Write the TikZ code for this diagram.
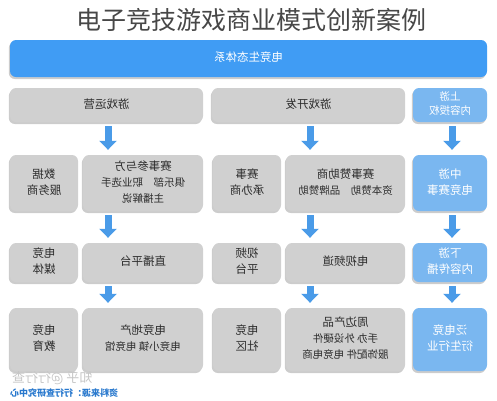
\documentclass[tikz,border=0pt]{standalone}
\usepackage{fontspec}
\setmainfont{Noto Sans CJK SC}
\usepackage{graphicx}
\usetikzlibrary{arrows.meta,shadows,positioning}
\definecolor{BoxGray}{RGB}{208,208,208}
\definecolor{TextGray}{RGB}{45,45,45}
\definecolor{BarBlue}{RGB}{64,156,244}
\definecolor{LightBlue}{RGB}{122,183,240}
\definecolor{ArrowBlue}{RGB}{74,155,232}
\definecolor{SrcBlue}{RGB}{40,120,205}
\newcommand{\mirtext}[1]{\reflectbox{\begin{tabular}{@{}c@{}}#1\end{tabular}}}
\newcommand{\subline}{\fontsize{10.5}{13.5}\selectfont}

\begin{document}
\begin{tikzpicture}[x=1pt,y=-1pt,
  box/.style={rounded corners=6pt,inner sep=0pt,text=TextGray,font=\fontsize{11.5}{16}\selectfont,
    drop shadow={opacity=0.4,shadow xshift=-1.2pt,shadow yshift=-2pt}},
  graybox/.style={box,fill=BoxGray},
  bluebox/.style={box,fill=LightBlue,text=white},
  flow/.style={draw=ArrowBlue,line width=7pt,-{Triangle[width=17pt,length=9pt]},shorten <=4pt,shorten >=5pt}]
\useasboundingbox (0,0) rectangle (497,400);
\node[text=black!72,font=\fontsize{25}{25}\selectfont] (title) at (251,20) {电子竞技游戏商业模式创新案例};
\node[box,fill=BarBlue,text=white,minimum width=477,minimum height=37] (eco) at (248.5,58.5) {\mirtext{电竞生态体系}};
% upstream row
\node[graybox,minimum width=193,minimum height=34] (gameop) at (106.5,105) {\mirtext{游戏运营}};
\node[graybox,minimum width=193,minimum height=34] (gamedev) at (308.5,105) {\mirtext{游戏开发}};
\node[bluebox,minimum width=74,minimum height=34,font=\fontsize{10.5}{14}\selectfont] (up) at (450,105) {\mirtext{上游\\内容授权}};
% midstream row
\node[graybox,minimum width=68,minimum height=56] (data) at (44,183) {\mirtext{数据\\服务商}};
\node[graybox,minimum width=120,minimum height=56] (player) at (143,183) {\mirtext{赛事参与方\\\subline 俱乐部\quad 职业选手\\\subline 主播解说}};
\node[graybox,minimum width=68,minimum height=56] (host) at (247,183) {\mirtext{赛事\\承办商}};
\node[graybox,minimum width=119,minimum height=56] (sponsor) at (345.5,183) {\mirtext{赛事赞助商\\\subline 资本赞助\quad 品牌赞助}};
\node[bluebox,minimum width=74,minimum height=56] (mid) at (450,183) {\mirtext{中游\\电竞赛事}};
% downstream row
\node[graybox,minimum width=68,minimum height=39] (media) at (44,262.5) {\mirtext{电竞\\媒体}};
\node[graybox,minimum width=120,minimum height=39] (live) at (143,262.5) {\mirtext{直播平台}};
\node[graybox,minimum width=68,minimum height=39] (video) at (247,262.5) {\mirtext{视频\\平台}};
\node[graybox,minimum width=119,minimum height=39] (tv) at (345.5,262.5) {\mirtext{电视频道}};
\node[bluebox,minimum width=74,minimum height=39] (down) at (450,262.5) {\mirtext{下游\\内容传播}};
% derived row
\node[graybox,minimum width=68,minimum height=63] (edu) at (44,339.5) {\mirtext{电竞\\教育}};
\node[graybox,minimum width=120,minimum height=63] (estate) at (143,339.5) {\mirtext{电竞地产\\\subline 电竞小镇 电竞馆}};
\node[graybox,minimum width=68,minimum height=63] (comm) at (247,339.5) {\mirtext{电竞\\社区}};
\node[graybox,minimum width=119,minimum height=63] (merch) at (345.5,339.5) {\mirtext{周边产品\\\subline 手办 外设硬件\\\subline 服饰配件 电竞电商}};
\node[bluebox,minimum width=74,minimum height=63] (deriv) at (450,339.5) {\mirtext{泛电竞\\衍生行业}};
% arrows
\coordinate (colL) at (108,0);
\coordinate (colM) at (310,0);
\coordinate (colR) at (452,0);
\draw[flow] (gameop.south -| colL) -- (player.north -| colL);
\draw[flow] (player.south -| colL) -- (live.north -| colL);
\draw[flow] (live.south -| colL) -- (estate.north -| colL);
\draw[flow] (gamedev.south -| colM) -- (sponsor.north -| colM);
\draw[flow] (sponsor.south -| colM) -- (tv.north -| colM);
\draw[flow] (tv.south -| colM) -- (merch.north -| colM);
\draw[flow] (up.south -| colR) -- (mid.north -| colR);
\draw[flow] (mid.south -| colR) -- (down.north -| colR);
\draw[flow] (down.south -| colR) -- (deriv.north -| colR);
% source
\node[anchor=west,inner sep=0pt,text=gray!45,font=\fontsize{13}{13}\selectfont] (zhihu) at (12,378) {\reflectbox{知乎 @行行查}};
\node[anchor=west,inner sep=0pt,text=SrcBlue,font=\bfseries\fontsize{9}{9}\selectfont] (src) at (10,393) {\reflectbox{资料来源：行行查研究中心}};
\end{tikzpicture}
\end{document}
